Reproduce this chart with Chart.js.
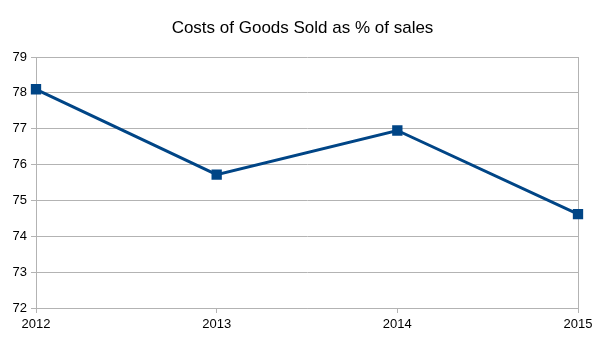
<!DOCTYPE html>
<html>
<head>
<meta charset="utf-8">
<script src="https://cdn.jsdelivr.net/npm/chart.js@4/dist/chart.umd.min.js"></script>
<style>
  html, body { margin: 0; padding: 0; background: #fff; }
  #wrap { width: 605px; height: 340px; }
</style>
</head>
<body>
<div id="wrap"><canvas id="c" width="605" height="340"></canvas></div>
<script>
// Cost of goods sold, share of sales per year
const years = ['2012', '2013', '2014', '2015'];
const cogsPercent = [78.1, 75.72, 76.95, 74.62];
const yMin = 72;
const yMax = 79;

const gridGray = '#b3b3b3';
const lineBlue = '#004586';

new Chart(document.getElementById('c'), {
  type: 'line',
  data: {
    labels: years,
    datasets: [{
      data: cogsPercent,
      yAxisID: 'y',
      borderColor: lineBlue,
      backgroundColor: lineBlue,
      borderWidth: 3,
      pointStyle: 'rect',
      pointRadius: 7.3,
      pointHoverRadius: 7.3,
      pointBorderWidth: 0,
      pointBackgroundColor: lineBlue,
      tension: 0
    }]
  },
  options: {
    responsive: false,
    animation: false,
    layout: { padding: 0 },
    plugins: {
      legend: { display: false },
      tooltip: { enabled: false },
      title: {
        display: true,
        text: 'Costs of Goods Sold as % of sales',
        color: '#000',
        font: { family: 'Liberation Sans', size: 17, weight: 'normal', lineHeight: 1.2 },
        padding: { top: 18, bottom: 18.6 }
      }
    },
    scales: {
      x: {
        offset: false,
        grid: {
          display: true,
          drawOnChartArea: true,
          color: (ctx) => (ctx.index === 0 || ctx.index === years.length - 1) ? gridGray : 'rgba(0,0,0,0)',
          tickColor: gridGray,
          tickLength: 5
        },
        border: { display: true, color: gridGray },
        ticks: {
          color: '#000',
          padding: 4,
          maxRotation: 0,
          font: { family: 'Liberation Sans', size: 13 }
        },
        afterFit: (s) => { s.height = 32; }
      },
      y: {
        min: yMin,
        max: yMax,
        grid: { color: gridGray, tickColor: gridGray, tickLength: 5 },
        border: { display: true, color: gridGray },
        ticks: {
          stepSize: 1,
          color: '#000',
          padding: 4,
          font: { family: 'Liberation Sans', size: 13 }
        },
        afterFit: (s) => { s.width = 36; }
      },
      // empty right-hand margin so the plot ends short of the canvas edge
      yRight: {
        position: 'right',
        min: yMin,
        max: yMax,
        grid: { display: false, drawTicks: false },
        border: { display: false },
        ticks: { display: false },
        afterFit: (s) => { s.width = 27; }
      }
    }
  }
});
</script>
</body>
</html>
